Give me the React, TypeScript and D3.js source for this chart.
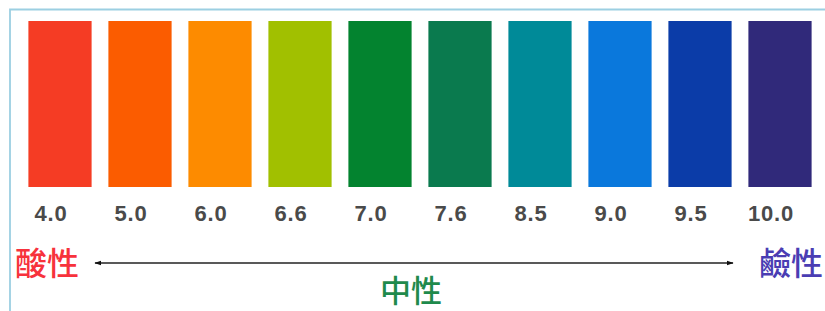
import * as d3 from "d3";
import { useEffect } from "react";

// pH values shown under each swatch
const phLabels = ["4.0", "5.0", "6.0", "6.6", "7.0", "7.6", "8.5", "9.0", "9.5", "10.0"];
const swatchColors = [
  "#f53c24",
  "#fb5c00",
  "#fd8b00",
  "#a1c000",
  "#03832f",
  "#0a7a4e",
  "#008a98",
  "#0a78dc",
  "#0b3ca8",
  "#30297a",
];
const sideLabels = ["酸性", "中性", "鹼性"];
const sideColors = ["#f7323c", "#1f8a4c", "#4a3db3"];

const PhScale = () => {
  useEffect(() => {
    d3.select("#ph_scale").selectAll("*").remove();

    const width = 825,
      height = 311;

    const svg = d3
      .select("#ph_scale")
      .append("svg")
      .attr("width", width)
      .attr("height", height)
      .style("position", "absolute")
      .style("left", "0px")
      .style("top", "0px")
      .style("background", "#fff");

    // light blue frame (only top and left visible)
    svg
      .append("path")
      .attr("d", `M10,${height} V9.5 H${width}`)
      .attr("fill", "none")
      .attr("stroke", "#9ccfe2")
      .attr("stroke-width", 1.8);

    const x = d3
      .scaleBand()
      .domain(phLabels)
      .range([20, 820])
      .paddingInner(0.21)
      .paddingOuter(0.105);

    const y = d3.scaleLinear().domain([0, 1]).range([187, 21]);

    svg
      .selectAll(".bar")
      .data(phLabels)
      .enter()
      .append("rect")
      .attr("class", "bar")
      .attr("x", (d) => x(d)!)
      .attr("y", y(1))
      .attr("width", x.bandwidth())
      .attr("height", y(0) - y(1))
      .attr("fill", (d, i) => swatchColors[i]);

    svg
      .selectAll(".ph")
      .data(phLabels)
      .enter()
      .append("text")
      .attr("class", "ph")
      .attr("x", (d) => x(d)! + x.bandwidth() / 2 - 9)
      .attr("y", 221)
      .attr("text-anchor", "middle")
      .style("font-family", "'Liberation Sans', Arial, sans-serif")
      .style("font-weight", "bold")
      .style("font-size", "22px")
      .style("letter-spacing", "0.8px")
      .style("fill", "#4a4a4a")
      .text((d) => d);

    // double headed arrow
    const defs = svg.append("defs");
    defs
      .append("marker")
      .attr("id", "arrowhead")
      .attr("viewBox", "0 0 10 10")
      .attr("refX", 9)
      .attr("refY", 5)
      .attr("markerWidth", 7)
      .attr("markerHeight", 7)
      .attr("markerUnits", "userSpaceOnUse")
      .attr("orient", "auto-start-reverse")
      .append("path")
      .attr("d", "M0,1.5 L10,5 L0,8.5 Z")
      .attr("fill", "#111");

    svg
      .append("line")
      .attr("x1", 95)
      .attr("x2", 733)
      .attr("y1", 263)
      .attr("y2", 263)
      .attr("stroke", "#222")
      .attr("stroke-width", 1.6)
      .attr("marker-start", "url(#arrowhead)")
      .attr("marker-end", "url(#arrowhead)");

    const cjk = "'Noto Sans CJK TC', 'Noto Sans CJK SC', sans-serif";
    const pos = [
      { x: 15, y: 275, anchor: "start", size: 32 },
      { x: 411, y: 302, anchor: "middle", size: 31 },
      { x: 823, y: 275, anchor: "end", size: 32 },
    ];
    svg
      .selectAll(".side")
      .data(sideLabels)
      .enter()
      .append("text")
      .attr("class", "side")
      .attr("x", (d, i) => pos[i].x)
      .attr("y", (d, i) => pos[i].y)
      .attr("text-anchor", (d, i) => pos[i].anchor)
      .style("font-family", cjk)
      .style("font-weight", 500)
      .style("font-size", (d, i) => `${pos[i].size}px`)
      .style("fill", (d, i) => sideColors[i])
      .text((d) => d);
  }, []);

  return <div id="ph_scale" />;
};

export default function App() {
  return <PhScale />;
}
